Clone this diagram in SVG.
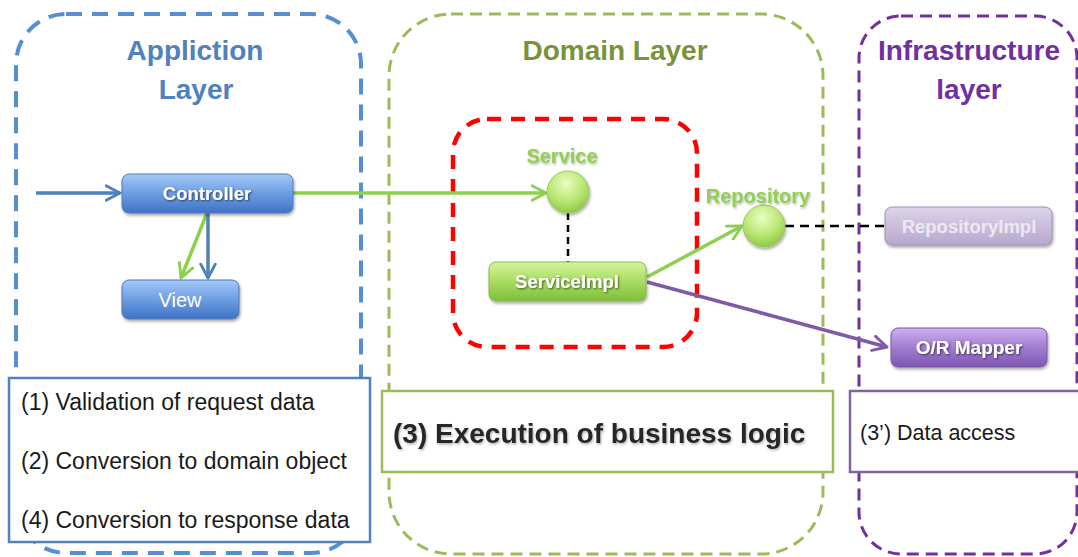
<svg xmlns="http://www.w3.org/2000/svg" width="1078" height="557" viewBox="0 0 1078 557">
<style>
.frame{fill:none}
.lbl{font-family:"Liberation Sans",Arial,sans-serif;font-weight:bold;font-size:28px;text-anchor:middle}
.node{font-family:"Liberation Sans",Arial,sans-serif;font-weight:bold;font-size:18.5px;fill:#fff;text-anchor:middle}
.ifc{font-family:"Liberation Sans",Arial,sans-serif;font-weight:bold;font-size:20px;fill:#92D050;text-anchor:middle}
.note{font-family:"Liberation Sans",Arial,sans-serif;font-size:23px;fill:#1a1a1a}
.conn{fill:none;stroke-width:3.5}
</style>
<defs>
<linearGradient id="gBlue" x1="0" y1="0" x2="0" y2="1"><stop offset="0" stop-color="#A5C8F8"/><stop offset="0.5" stop-color="#6D9DE3"/><stop offset="1" stop-color="#3F73C4"/></linearGradient>
<linearGradient id="gGreen" x1="0" y1="0" x2="0" y2="1"><stop offset="0" stop-color="#D4F59B"/><stop offset="0.5" stop-color="#A9DC62"/><stop offset="1" stop-color="#7EBE3A"/></linearGradient>
<linearGradient id="gLilac" x1="0" y1="0" x2="0" y2="1"><stop offset="0" stop-color="#DDD4EA"/><stop offset="1" stop-color="#B7A8CD"/></linearGradient>
<linearGradient id="gPurple" x1="0" y1="0" x2="0" y2="1"><stop offset="0" stop-color="#CDB0EE"/><stop offset="0.5" stop-color="#A27CD2"/><stop offset="1" stop-color="#7E56B2"/></linearGradient>
<radialGradient id="gBall" cx="0.45" cy="0.3" r="0.75"><stop offset="0" stop-color="#EAFFC2"/><stop offset="0.6" stop-color="#B5E46E"/><stop offset="1" stop-color="#86C23E"/></radialGradient>
<filter id="sh" x="-20%" y="-20%" width="140%" height="160%"><feDropShadow dx="1" dy="2" stdDeviation="1.5" flood-color="#000" flood-opacity="0.35"/></filter>
<filter id="tsh" x="-10%" y="-30%" width="120%" height="160%"><feDropShadow dx="1" dy="1" stdDeviation="0.8" flood-color="#000" flood-opacity="0.6"/></filter>
<filter id="tshg" x="-10%" y="-30%" width="120%" height="160%"><feDropShadow dx="1" dy="1.5" stdDeviation="1" flood-color="#555" flood-opacity="0.45"/></filter>
<marker id="aBlue" viewBox="0 0 12 12" refX="10.5" refY="6" markerWidth="5" markerHeight="5" markerUnits="strokeWidth" orient="auto"><path d="M1,1 L10.5,6 L1,11" fill="none" stroke="#4F81BD" stroke-width="2" stroke-linecap="round" stroke-linejoin="round"/></marker>
<marker id="aGreen" viewBox="0 0 12 12" refX="10.5" refY="6" markerWidth="5" markerHeight="5" markerUnits="strokeWidth" orient="auto"><path d="M1,1 L10.5,6 L1,11" fill="none" stroke="#8DCF4F" stroke-width="2" stroke-linecap="round" stroke-linejoin="round"/></marker>
<marker id="aPurple" viewBox="0 0 12 12" refX="10.5" refY="6" markerWidth="5" markerHeight="5" markerUnits="strokeWidth" orient="auto"><path d="M1,1 L10.5,6 L1,11" fill="none" stroke="#7F5BA6" stroke-width="2" stroke-linecap="round" stroke-linejoin="round"/></marker>
</defs>
<rect width="1078" height="557" fill="#fff"/>

<g id="layer-application">
<rect class="frame" x="16" y="14" width="345" height="539" rx="50" stroke="#558ED5" stroke-width="4" stroke-dasharray="16 10"/>
<text class="lbl" x="195" y="60" fill="#4F81BD">Appliction</text>
<text class="lbl" x="196" y="99" fill="#4F81BD">Layer</text>
</g>
<g id="layer-domain">
<rect class="frame" x="389" y="14" width="434" height="540" rx="62" stroke="#9BBB59" stroke-width="3" stroke-dasharray="12 7"/>
<text class="lbl" x="615" y="60" fill="#77933C">Domain Layer</text>
</g>
<g id="layer-infrastructure">
<rect class="frame" x="859" y="16" width="218" height="538" rx="42" stroke="#7030A0" stroke-width="3" stroke-dasharray="12 7"/>
<text class="lbl" x="969" y="60" fill="#7030A0">Infrastructure</text>
<text class="lbl" x="969" y="99" fill="#7030A0">layer</text>
</g>

<g id="note-application">
<rect x="9" y="378" width="361" height="164" fill="#fff" stroke="#4F81BD" stroke-width="2.5"/>
<text class="note" x="21" y="410">(1) Validation of request data</text>
<text class="note" x="21" y="469">(2) Conversion to domain object</text>
<text class="note" x="21" y="528">(4) Conversion to response data</text>
</g>
<g id="note-domain">
<rect x="382" y="391" width="451" height="81" fill="#fff" stroke="#9BBB59" stroke-width="2.5"/>
<text x="393" y="443" font-family="Liberation Sans, Arial, sans-serif" font-weight="bold" font-size="28" fill="#262626" filter="url(#tshg)">(3) Execution of business logic</text>
</g>
<g id="note-infrastructure">
<rect x="850" y="391" width="240" height="81" fill="#fff" stroke="#8064A2" stroke-width="2.5"/>
<text class="note" x="860" y="440" style="font-size:21.5px">(3’) Data access</text>
</g>

<g id="transaction-boundary">
<rect x="453" y="119" width="244" height="228" rx="34" fill="none" stroke="#FF0000" stroke-width="4.5" stroke-dasharray="14 10"/>
</g>

<g id="connectors">
<line class="conn" x1="36" y1="193" x2="120" y2="193" stroke="#4F81BD" marker-end="url(#aBlue)"/>
<line class="conn" x1="293" y1="193" x2="546" y2="193" stroke="#8DCF4F" marker-end="url(#aGreen)"/>
<line class="conn" x1="207" y1="213" x2="181" y2="278" stroke="#8DCF4F" marker-end="url(#aGreen)"/>
<line class="conn" x1="208" y1="213" x2="208" y2="278" stroke="#4F81BD" marker-end="url(#aBlue)"/>
<line x1="568" y1="213" x2="568" y2="262" stroke="#000" stroke-width="2.5" stroke-dasharray="7 5"/>
<line class="conn" x1="647" y1="277" x2="742" y2="226" stroke="#8DCF4F" marker-end="url(#aGreen)"/>
<line class="conn" x1="647" y1="282" x2="887" y2="347" stroke="#7F5BA6" marker-end="url(#aPurple)"/>
<line x1="785" y1="226" x2="885" y2="226" stroke="#000" stroke-width="2.5" stroke-dasharray="9 6"/>
</g>

<g id="controller">
<rect x="122" y="174" width="171" height="39" rx="7" fill="url(#gBlue)" stroke="#4A7AC0" stroke-width="1" filter="url(#sh)"/>
<text class="node" x="207" y="200" filter="url(#tsh)">Controller</text>
</g>
<g id="view">
<rect x="122" y="280" width="117" height="39" rx="7" fill="url(#gBlue)" stroke="#4A7AC0" stroke-width="1" filter="url(#sh)"/>
<text class="node" x="180" y="307" style="font-weight:normal;font-size:20px">View</text>
</g>
<g id="service">
<circle cx="568" cy="192" r="21" fill="url(#gBall)" stroke="#9BC763" stroke-width="1" filter="url(#sh)"/>
<text class="ifc" x="562" y="163" filter="url(#tshg)">Service</text>
</g>
<g id="serviceimpl">
<rect x="489" y="262" width="157" height="39" rx="7" fill="url(#gGreen)" stroke="#86B94A" stroke-width="1" filter="url(#sh)"/>
<text class="node" x="567" y="288" filter="url(#tsh)">ServiceImpl</text>
</g>
<g id="repository">
<circle cx="764" cy="226" r="21" fill="url(#gBall)" stroke="#9BC763" stroke-width="1" filter="url(#sh)"/>
<text class="ifc" x="758" y="203" filter="url(#tshg)">Repository</text>
</g>
<g id="repositoryimpl">
<rect x="885" y="207" width="167" height="38" rx="7" fill="url(#gLilac)" stroke="#9E8DBA" stroke-width="1" filter="url(#sh)"/>
<text class="node" x="969" y="233" fill="#EEEAF3" style="fill:#ECE8F2">RepositoryImpl</text>
</g>
<g id="or-mapper">
<rect x="891" y="328" width="156" height="39" rx="7" fill="url(#gPurple)" stroke="#7A55A8" stroke-width="1" filter="url(#sh)"/>
<text class="node" x="969" y="354" filter="url(#tsh)" style="font-size:19px">O/R Mapper</text>
</g>
</svg>
